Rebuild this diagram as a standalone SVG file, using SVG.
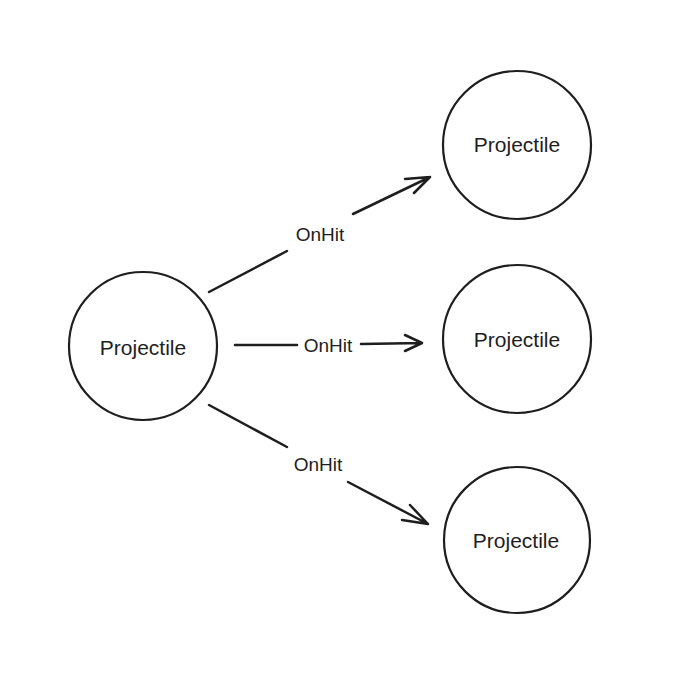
<svg xmlns="http://www.w3.org/2000/svg" width="694" height="674" viewBox="0 0 694 674">
<style>
.node{fill:none;stroke:#1e1e1e;stroke-width:2.2}
.lbl{font-family:"Liberation Sans",Arial,sans-serif;font-size:21px;fill:#1e1e1e;text-anchor:middle;dominant-baseline:central}
.elbl{font-family:"Liberation Sans",Arial,sans-serif;font-size:19px;fill:#1e1e1e;text-anchor:middle;dominant-baseline:central}
.edge{fill:none;stroke:#1e1e1e;stroke-width:2.5;stroke-linecap:round;stroke-linejoin:round}
</style>
<rect width="694" height="674" fill="#ffffff"/>
<g id="source">
<circle class="node" cx="143" cy="346" r="74"/>
<text class="lbl" x="143" y="347">Projectile</text>
</g>
<g id="target-top">
<circle class="node" cx="517" cy="145" r="74"/>
<text class="lbl" x="517" y="144">Projectile</text>
</g>
<g id="target-middle">
<circle class="node" cx="517" cy="339" r="74"/>
<text class="lbl" x="517" y="339">Projectile</text>
</g>
<g id="target-bottom">
<circle class="node" cx="517" cy="540" r="73"/>
<text class="lbl" x="516" y="540">Projectile</text>
</g>
<g id="connectors">
<path class="edge" d="M209 292 L287 251 M353 214 L430 177 M405 179 L430 177 L414 193"/>
<text class="elbl" x="320" y="234">OnHit</text>
<path class="edge" d="M235 345 L297 345 M361 344 L422 343 M405 335 L422 343 L405 351"/>
<text class="elbl" x="328" y="345">OnHit</text>
<path class="edge" d="M209 405 L287 447 M348 482 L428 524 M402 520 L428 524 L410 505"/>
<text class="elbl" x="318" y="464">OnHit</text>
</g>
</svg>
